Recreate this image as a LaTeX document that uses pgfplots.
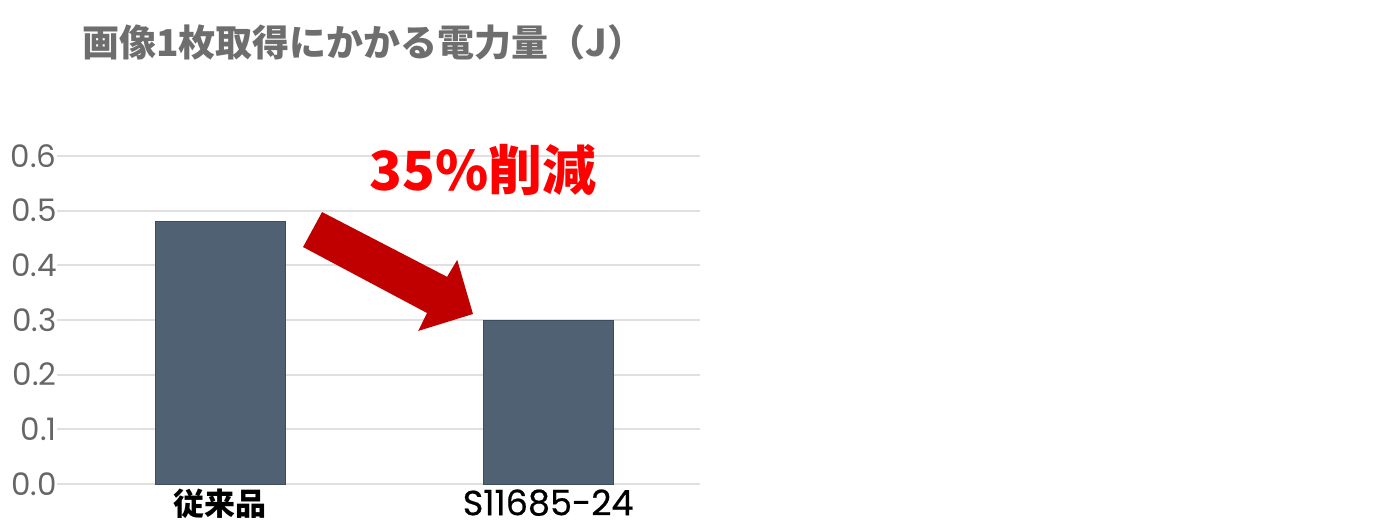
\documentclass[border=0pt]{standalone}
\usepackage{fontspec}
\setmainfont{Noto Sans CJK JP}
\newfontfamily\numfont{Poppins}
\newfontfamily\labfont[FakeBold=0.6]{Poppins}
\usepackage{pgfplots}
\pgfplotsset{compat=1.18}
\definecolor{barfill}{HTML}{506173}
\definecolor{baredge}{HTML}{3E4D5E}
\definecolor{gridc}{HTML}{E0E0E0}
\definecolor{titlec}{HTML}{6E6E6E}
\definecolor{tickc}{HTML}{666666}
\definecolor{arrowc}{HTML}{C00000}
\begin{document}
\begin{tikzpicture}
\useasboundingbox (0,0) rectangle (700pt,263.5pt);
\node[anchor=west, inner sep=0pt, text=titlec, font=\bfseries\fontsize{18.5}{18.5}\selectfont]
  at (41pt,242.5pt) {画像1枚取得にかかる電力量（J）};
\begin{axis}[
  at={(28.5pt,21.5pt)}, anchor=south west,
  scale only axis, width=321.5pt, height=164pt,
  xmin=-0.497, xmax=1.463, ymin=0, ymax=0.6,
  ytick={0,0.1,...,0.6},
  xtick={0,1},
  xticklabels={\bfseries\fontsize{15.5}{15.5}\selectfont 従来品, \labfont\fontsize{17.5}{17.5}\selectfont S11685-24},
  axis line style={draw=none},
  major tick length=0pt,
  ymajorgrids, grid style={gridc, line width=0.9pt},
  /pgf/number format/assume math mode=true,
  yticklabel={\pgfmathprintnumber[fixed,fixed zerofill,precision=1]{\tick}},
  yticklabel style={text=tickc, font=\numfont\fontsize{15.5}{15.5}\selectfont, inner xsep=0pt, anchor=east},
  xticklabel style={text=black, anchor=north, inner sep=0.5pt, yshift=-2pt},
  clip=false,
]
\addplot[ybar, bar width=65pt, fill=barfill, draw=baredge, line width=0.5pt]
  coordinates {(0,0.48) (1,0.30)};
\fill[arrowc] (axis cs:0.311,0.4975) -- (axis cs:0.692,0.379) -- (axis cs:0.723,0.410)
  -- (axis cs:0.771,0.311) -- (axis cs:0.604,0.280) -- (axis cs:0.631,0.3128)
  -- (axis cs:0.253,0.4335) -- cycle;
\node[text=red, font=\bfseries\fontsize{27}{27}\selectfont, inner sep=0pt]
  at (axis cs:0.802,0.574) {35\%削減};
\end{axis}
\end{tikzpicture}
\end{document}
